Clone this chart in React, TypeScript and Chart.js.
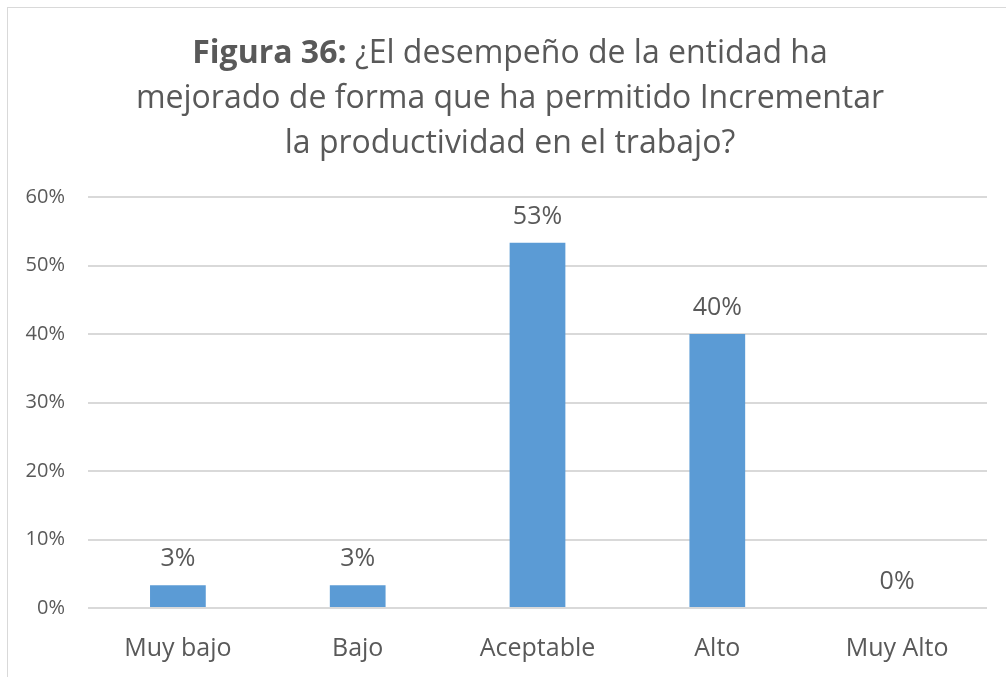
import React, { useEffect, useRef } from "react";
import { Chart, registerables } from "chart.js";

Chart.register(...registerables);

const categories = ["Muy bajo", "Bajo", "Aceptable", "Alto", "Muy Alto"];
const percentages = [3.33, 3.33, 53.33, 40, 0];
const yTicks = [0, 10, 20, 30, 40, 50, 60];
const titleBold = "Figura 36:";
const titleLines = [
  " ¿El desempeño de la entidad ha",
  "mejorado de forma que ha permitido Incrementar",
  "la productividad en el trabajo?",
];

const FONT = "'Open Sans', 'Noto Sans', sans-serif";
const TEXT = "#595959";
const GRID = "#d9d9d9";
const BAR = "#5b9bd5";

// Draws the multi-line title with a bold lead-in on the first line
const titlePlugin = {
  id: "mixedTitle",
  afterDraw(chart: any) {
    const ctx = chart.ctx as CanvasRenderingContext2D;
    const cx = 510;
    const baselines = [63, 108, 153];
    const size = 32;
    ctx.save();
    ctx.fillStyle = TEXT;
    ctx.textBaseline = "alphabetic";
    ctx.textAlign = "left";
    ctx.font = `bold ${size}px ${FONT}`;
    const wb = ctx.measureText(titleBold).width;
    ctx.font = `${size}px ${FONT}`;
    const wr = ctx.measureText(titleLines[0]).width;
    const x = cx - (wb + wr) / 2;
    ctx.font = `bold ${size}px ${FONT}`;
    ctx.fillText(titleBold, x, baselines[0]);
    ctx.font = `${size}px ${FONT}`;
    ctx.fillText(titleLines[0], x + wb, baselines[0]);
    ctx.textAlign = "center";
    for (let i = 1; i < titleLines.length; i++) {
      ctx.fillText(titleLines[i], cx, baselines[i]);
    }
    ctx.restore();
  },
};

// Value labels above each bar
const valueLabelPlugin = {
  id: "valueLabels",
  afterDatasetsDraw(chart: any) {
    const ctx = chart.ctx as CanvasRenderingContext2D;
    const meta = chart.getDatasetMeta(0);
    ctx.save();
    ctx.fillStyle = TEXT;
    ctx.font = `25px ${FONT}`;
    ctx.textAlign = "center";
    ctx.textBaseline = "alphabetic";
    meta.data.forEach((bar: any, i: number) => {
      const v = percentages[i];
      ctx.fillText(`${Math.round(v)}%`, bar.x, bar.y - 19);
    });
    ctx.restore();
  },
};

export default function App() {
  const ref = useRef<HTMLCanvasElement>(null);

  useEffect(() => {
    if (!ref.current) return;
    const chart = new Chart(ref.current, {
      type: "bar",
      data: {
        labels: categories,
        datasets: [
          {
            data: percentages,
            backgroundColor: BAR,
            barPercentage: 0.31,
            categoryPercentage: 1,
          },
        ],
      },
      options: {
        responsive: false,
        animation: false,
        layout: { padding: { top: 197, right: 19, left: 0, bottom: 0 } },
        plugins: {
          legend: { display: false },
          tooltip: { enabled: false },
          title: { display: false },
        },
        scales: {
          x: {
            grid: { display: false, drawTicks: false },
            border: { display: false },
            ticks: {
              color: TEXT,
              font: { family: FONT, size: 25 },
              padding: 26,
              maxRotation: 0,
            },
            afterFit(scale: any) {
              scale.height = 69;
            },
          },
          y: {
            min: 0,
            max: 60,
            afterBuildTicks(scale: any) {
              scale.ticks = yTicks.map((v) => ({ value: v }));
            },
            grid: { color: GRID, lineWidth: 2, drawTicks: false },
            border: { display: false },
            ticks: {
              color: TEXT,
              font: { family: FONT, size: 20 },
              padding: 23,
              callback: (v: any) => `${v}%`,
            },
            afterFit(scale: any) {
              scale.width = 88;
            },
          },
        },
      },
      plugins: [titlePlugin, valueLabelPlugin],
    });
    return () => chart.destroy();
  }, []);

  return (
    <div
      style={{
        position: "fixed",
        left: 0,
        top: 0,
        width: 1006,
        height: 677,
        overflow: "hidden",
        background: "#ffffff",
      }}
    >
      <div
        style={{
          position: "absolute",
          left: 7,
          top: 7,
          width: 1020,
          height: 700,
          border: `1px solid ${GRID}`,
          boxSizing: "border-box",
        }}
      />
      <canvas
        ref={ref}
        width={1006}
        height={677}
        style={{ position: "absolute", left: 0, top: 0 }}
      />
    </div>
  );
}
